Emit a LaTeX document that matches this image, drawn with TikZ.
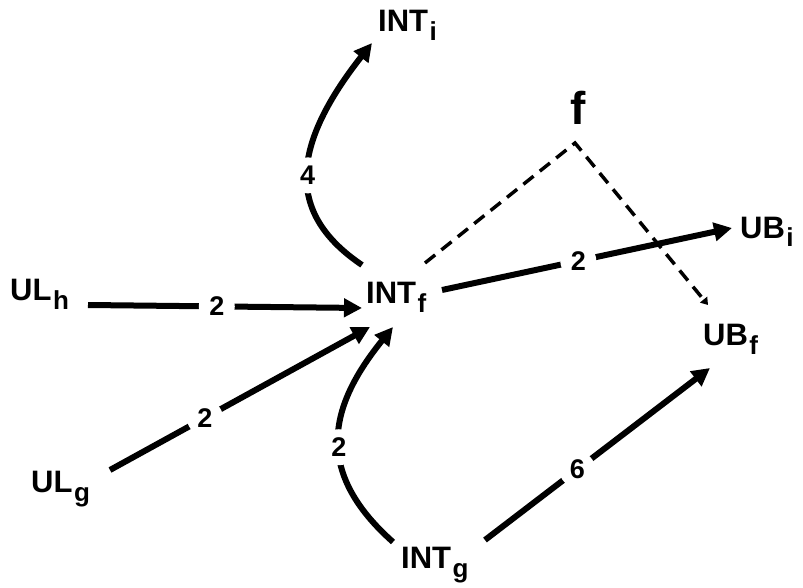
\documentclass[tikz,border=0pt]{standalone}
\usepackage{fontspec}
\setmainfont{Liberation Sans}
\usetikzlibrary{arrows.meta}
\newcommand{\mysub}[1]{\kern1.5pt\raisebox{-9pt}{\fontsize{26}{26}\selectfont #1}}
\begin{document}
\begin{tikzpicture}[x=1pt,y=-1pt,
  nm/.style={font=\fontsize{31}{31}\selectfont\bfseries, inner sep=0pt, anchor=base west},
  num/.style={circle, fill=white, inner sep=0pt, minimum size=36pt, font=\fontsize{27}{27}\selectfont\bfseries},
  arr/.style={line width=6pt, -{Triangle[length=18pt,width=18pt]}},
  dashline/.style={line width=3.5pt, dash pattern=on 13pt off 8pt, -{Triangle[length=7pt,width=9pt]}}
]
\useasboundingbox (0,0) rectangle (803,588);
\node[nm] (INTi) at (378,32) {INT\mysub{i}};
\node[nm] (ULh) at (10,300) {UL\mysub{h}};
\node[nm] (INTf) at (366,303) {INT\mysub{f}};
\node[nm] (UBi) at (740,238) {UB\mysub{i}};
\node[nm] (UBf) at (703,345) {UB\mysub{f}};
\node[nm] (ULg) at (31,492) {UL\mysub{g}};
\node[nm] (INTg) at (401,568) {INT\mysub{g}};
\node[nm, font=\fontsize{46}{46}\selectfont\bfseries] (f) at (570,125) {f};

\draw[arr] ([shift={(78,5)}]ULh.base west) -- node[num,pos=0.47]{2} ([shift={(-4,5)}]INTf.base west);
\draw[arr] ([shift={(79,-22)}]ULg.base west) -- node[num,pos=0.365]{2} ([shift={(4,24)}]INTf.base west);
\draw[arr] ([shift={(-8,-26)}]INTg.base west) .. controls (312,470) and (330,405) .. node[num,pos=0.45]{2} ([shift={(27,24)}]INTf.base west);
\draw[arr] ([shift={(-4,-38)}]INTf.base west) .. controls (288,215) and (288,150) .. node[num,pos=0.5]{4} ([shift={(-6,11)}]INTi.base west);
\draw[arr] ([shift={(76,-13)}]INTf.base west) -- node[num,pos=0.47]{2} ([shift={(-8,-10)}]UBi.base west);
\draw[arr] ([shift={(84,-28)}]INTg.base west) -- node[num,pos=0.41]{6} ([shift={(7,23)}]UBf.base west);
\draw[dashline] ([shift={(59,-40)}]INTf.base west) -- ([shift={(5,18)}]f.base west) -- ([shift={(5,-40)}]UBf.base west);
\end{tikzpicture}
\end{document}
